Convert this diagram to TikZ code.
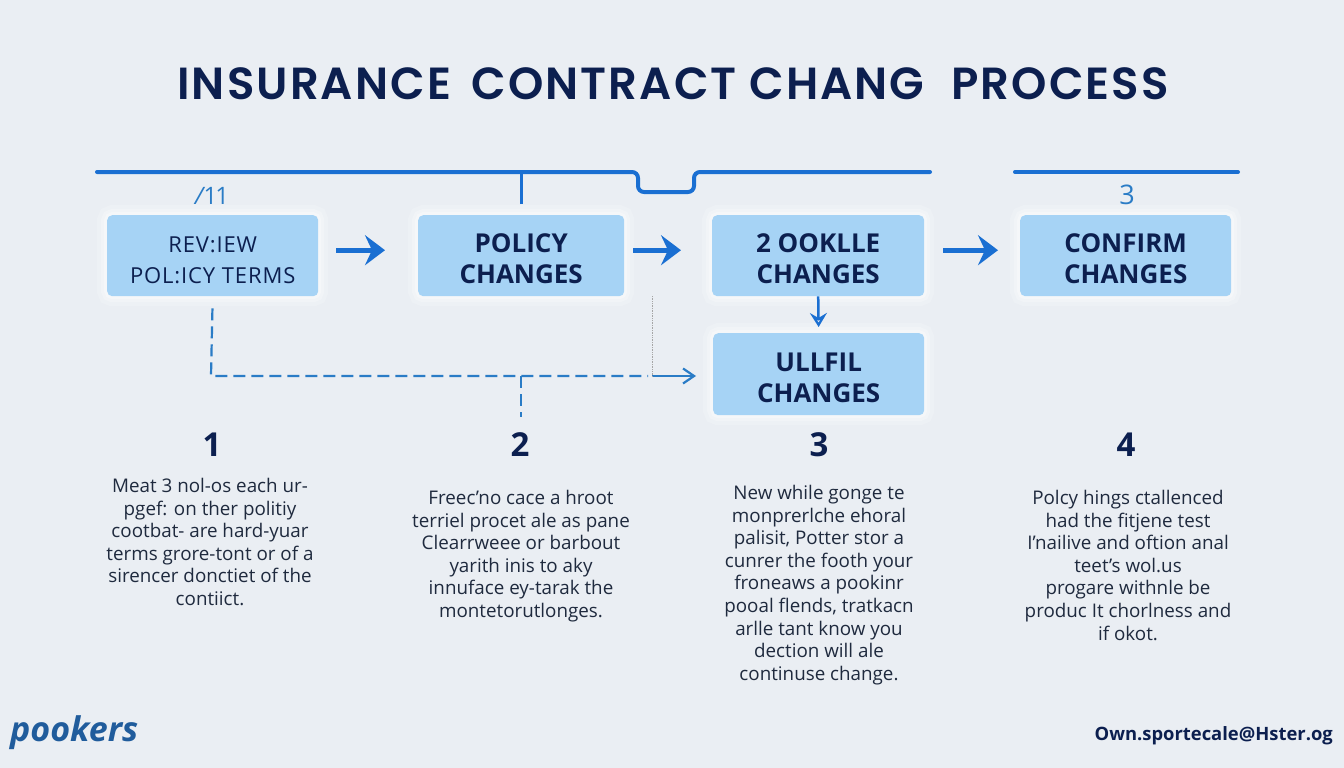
\documentclass[tikz,border=0pt]{standalone}
\usepackage{fontspec}
\setmainfont{Open Sans}
\newfontfamily\titlefont{Poppins SemiBold}
\usetikzlibrary{arrows.meta}
\definecolor{bgc}{HTML}{EAEEF3}
\definecolor{navy}{HTML}{0C1F4F}
\definecolor{boxc}{HTML}{A6D3F5}
\definecolor{linec}{HTML}{1A6FD2}
\definecolor{dashc}{HTML}{2A7CC6}
\definecolor{bodyc}{HTML}{1F2A3E}
\tikzset{
  x=1pt,y=-1pt,
  stepbox/.style={rectangle,rounded corners=5pt,fill=boxc,anchor=north west,
    align=center,text=navy,inner sep=0pt,font=\fontsize{26}{31}\selectfont\bfseries,
    text height=56pt,text depth=0pt,
    preaction={draw=white,opacity=.18,line width=20pt},
    preaction={draw=white,opacity=.25,line width=12pt},
    preaction={draw=white,opacity=.3,line width=6pt}},
  flow/.style={draw=linec,line width=5pt,-{Stealth[length=20pt,width=30pt,inset=7pt]}},
  topline/.style={draw=linec,line width=4pt,line cap=round,rounded corners=6pt},
  dashline/.style={draw=dashc,line width=2.2pt,dash pattern=on 12pt off 6pt},
  body/.style={align=center,text=bodyc,inner sep=0pt,font=\fontsize{18.8}{22.6}\selectfont},
  numl/.style={text=navy,inner sep=0pt,font=\fontsize{33}{33}\selectfont\bfseries},
  icon/.style={text=dashc,inner sep=0pt,font=\fontsize{24}{24}\selectfont},
}
\newcommand{\lightline}[1]{{\mdseries\fontsize{22}{31}\selectfont\addfontfeature{LetterSpace=4}#1}}
\begin{document}
\begin{tikzpicture}
\useasboundingbox (0,0) rectangle (1344,768);
\fill[bgc] (0,0) rectangle (1344,768);

\node[text=navy,inner sep=0pt,font=\fontsize{45}{45}\titlefont] (title) at (673,84)
  {\addfontfeature{LetterSpace=4.6}INSURANCE\hspace{8pt} CONTRACT CHANG\hspace{14pt} PROCESS};

\node[stepbox,minimum width=211pt,minimum height=81pt] (a) at (107,215)
  {\lightline{REV:IEW}\\\lightline{POL:ICY TERMS}};
\node[stepbox,minimum width=206pt,minimum height=81pt] (b) at (418,215) {POLICY\\CHANGES};
\node[stepbox,minimum width=212pt,minimum height=81pt] (c) at (712,215) {2 OOKLLE\\CHANGES};
\node[stepbox,minimum width=211pt,minimum height=81pt] (d) at (1020,215) {CONFIRM\\CHANGES};
\node[stepbox,minimum width=211pt,minimum height=82pt] (e) at (713,333) {ULLFIL\\CHANGES};

\draw[flow,shorten <=18pt,shorten >=33pt] ([yshift=5.5pt]a.east) -- ([yshift=5.5pt]b.west);
\draw[flow,shorten <=9pt,shorten >=31pt] ([yshift=5.5pt]b.east) -- ([yshift=5.5pt]c.west);
\draw[flow,shorten <=19pt,shorten >=22pt] ([yshift=5.5pt]c.east) -- ([yshift=5.5pt]d.west);
\draw[draw=linec,line width=2.5pt,-{Stealth[length=14pt,width=17pt,inset=5pt,fill=none,open]},shorten >=6pt]
  (c.south) -- (e.north);

\coordinate (t1) at (97,172);
\coordinate (t2) at (930,172);
\coordinate (t3) at (1015,172);
\coordinate (t4) at (1238,172);
\coordinate (stem) at (521,204);
\draw[topline] (t1) -- (638,172) -- (638,192) -- (694,192) -- (694,172) -- (t2);
\draw[topline] (t3) -- (t4);
\draw[draw=linec,line width=3pt] (stem) -- (stem |- t1);

\coordinate (djoin) at (521,376);
\coordinate (dend) at (652,376);
\coordinate (dstem) at (521,417);
\coordinate (gtop) at (652,296);
\draw[dashline,shorten <=12pt] (a.south) -- (211,376) -- (648,376);
\draw[draw=dashc,line width=2.2pt,-{Straight Barb[length=11pt,width=15pt]}] (dend) -- (696,376);
\draw[dashline] (djoin) -- (dstem);
\draw[draw=gray!70,line width=.7pt,densely dotted] (gtop) -- (dend);

\node[icon] (i1) at (212,196) {\addfontfeature{LetterSpace=-8}\textit{/}11};
\node[icon,font=\fontsize{27}{27}\selectfont] (i3) at (1127,195) {3};

\node[numl] (n1) at (212,445) {1};
\node[numl] (n2) at (520,445) {2};
\node[numl] (n3) at (819,445) {3};
\node[numl] (n4) at (1126,445) {4};

\node[body,anchor=north] (t1b) at (210,478) {Meat 3 nol-os each ur-\\pgef: on ther politiy\\cootbat- are hard-yuar\\terms grore-tont or of a\\sirencer donctiet of the\\contiict.};
\node[body,anchor=north] (t2b) at (521,490) {Freec'no cace a hroot\\terriel procet ale as pane\\Clearrweee or barbout\\yarith inis to aky\\innuface ey-tarak the\\montetorutlonges.};
\node[body,anchor=north] (t3b) at (819,485) {New while gonge te\\monprerlche ehoral\\palisit, Potter stor a\\cunrer the footh your\\froneaws a pookinr\\pooal flends, tratkacn\\arlle tant know you\\dection will ale\\continuse change.};
\node[body,anchor=north] (t4b) at (1128,490) {Polcy hings ctallenced\\had the fitjene test\\I'nailive and oftion anal\\teet's wol.us\\progare withnle be\\produc It chorlness and\\if okot.};

\node[anchor=west,inner sep=0pt,text=dashc!65!navy,font=\fontsize{34}{34}\selectfont\itshape\bfseries] (logo) at (10,733) {pookers};
\node[anchor=east,inner sep=0pt,text=navy,font=\fontsize{18.4}{18.4}\selectfont\bfseries] (mail) at (1333,736) {Own.sportecale@Hster.og};
\end{tikzpicture}
\end{document}
